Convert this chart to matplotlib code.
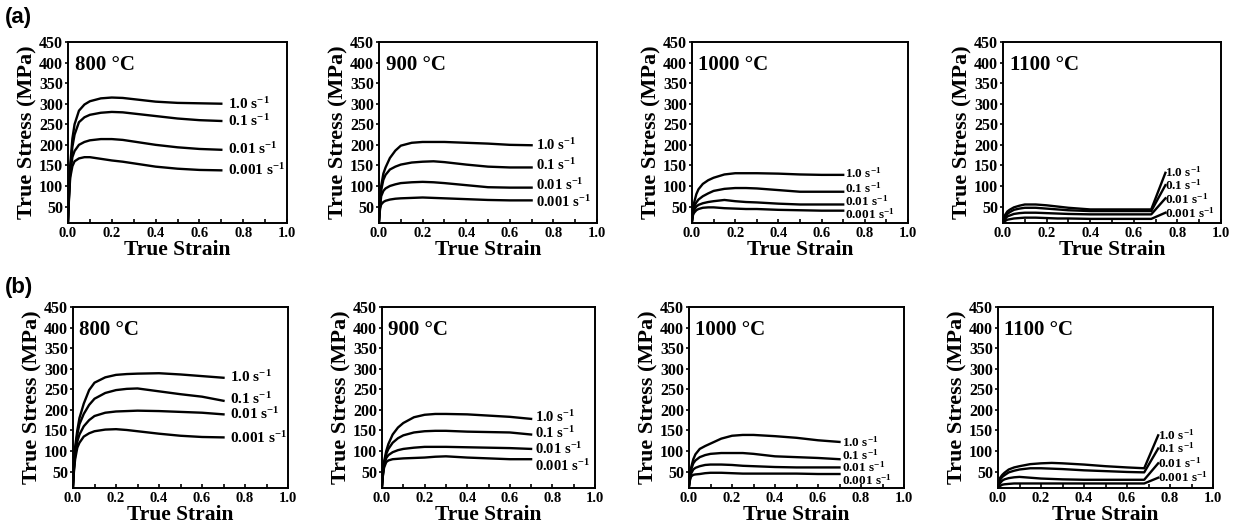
import numpy as np
import matplotlib
matplotlib.use('Agg')
import matplotlib.pyplot as plt
from matplotlib.ticker import MultipleLocator

plt.rcParams['font.family'] = ['Liberation Serif', 'DejaVu Serif']
plt.rcParams['font.weight'] = 'bold'
plt.rcParams['axes.labelweight'] = 'bold'
plt.rcParams['mathtext.fontset'] = 'custom'
plt.rcParams['mathtext.bf'] = 'Liberation Serif:bold'
plt.rcParams['mathtext.rm'] = 'Liberation Serif:bold'
plt.rcParams['mathtext.default'] = 'bf'

# strain grids
strain = [0, 0.005, 0.01, 0.02, 0.03, 0.05, 0.075, 0.1, 0.15, 0.2, 0.25, 0.3, 0.4, 0.5, 0.6, 0.7]
strain_1100 = [0, 0.005, 0.01, 0.02, 0.03, 0.05, 0.075, 0.1, 0.15, 0.2, 0.25, 0.3, 0.4, 0.5, 0.6, 0.68, 0.745]

rates = ['1.0 s$^{-1}$', '0.1 s$^{-1}$', '0.01 s$^{-1}$', '0.001 s$^{-1}$']
temps = ['800 \u00b0C', '900 \u00b0C', '1000 \u00b0C', '1100 \u00b0C']

# row (a) stresses, order: 1.0, 0.1, 0.01, 0.001 s^-1
a_800 = [[15, 90, 150, 215, 250, 283, 298, 306, 313, 315, 314, 311, 305, 302, 301, 300],
         [15, 85, 140, 195, 225, 255, 267, 273, 278, 280, 279, 276, 270, 264, 260, 258],
         [15, 80, 130, 170, 185, 200, 207, 211, 214, 214, 212, 208, 200, 194, 190, 188],
         [15, 75, 120, 148, 160, 167, 170, 170, 166, 162, 159, 155, 147, 142, 139, 138]]
a_900 = [[15, 60, 100, 130, 145, 168, 186, 198, 205, 207, 207, 207, 205, 203, 200, 199],
         [15, 55, 90, 115, 127, 140, 147, 152, 157, 159, 160, 158, 152, 147, 145, 145],
         [15, 50, 75, 88, 94, 100, 104, 107, 109, 110, 109, 107, 102, 97, 96, 96],
         [15, 45, 55, 61, 64, 67, 69, 70, 71, 72, 71, 70, 68, 66, 65, 65]]
a_1000 = [[15, 45, 60, 80, 92, 105, 114, 120, 128, 131, 131, 131, 130, 128, 127, 127],
          [15, 40, 50, 60, 67, 75, 82, 88, 93, 95, 95, 94, 90, 86, 86, 86],
          [15, 35, 42, 50, 54, 58, 61, 63, 66, 63, 61, 60, 57, 55, 55, 55],
          [15, 30, 35, 41, 44, 47, 48, 48, 46, 45, 44, 44, 42, 41, 40, 40]]
a_1100 = [[15, 25, 30, 38, 42, 48, 52, 55, 55, 53, 50, 47, 43, 43, 43, 43, 132],
          [12, 20, 25, 32, 36, 42, 45, 47, 47, 45, 43, 41, 39, 39, 39, 39, 102],
          [12, 17, 20, 26, 28, 32, 34, 35, 35, 34, 33, 32, 31, 31, 31, 31, 70],
          [10, 13, 15, 18, 19, 21, 22, 23, 23, 22, 21, 21, 20, 20, 20, 20, 35]]

# row (b)
b_800 = [[15, 70, 110, 150, 180, 215, 248, 266, 279, 285, 287, 288, 289, 286, 282, 278],
         [15, 65, 100, 140, 165, 190, 212, 227, 241, 248, 251, 252, 245, 238, 232, 222],
         [15, 60, 90, 123, 140, 160, 175, 185, 193, 196, 197, 198, 197, 195, 193, 189],
         [15, 55, 80, 108, 120, 135, 143, 148, 152, 153, 151, 148, 142, 137, 134, 133]]
b_900 = [[15, 50, 75, 100, 117, 140, 157, 168, 182, 188, 190, 190, 189, 186, 183, 178],
         [15, 48, 70, 93, 105, 120, 131, 138, 145, 148, 149, 149, 147, 146, 145, 140],
         [15, 45, 65, 83, 90, 97, 102, 105, 108, 110, 110, 110, 109, 108, 107, 105],
         [15, 45, 60, 73, 77, 80, 81, 82, 83, 84, 86, 87, 84, 82, 80, 80]]
b_1000 = [[15, 45, 60, 80, 92, 105, 112, 118, 130, 137, 139, 139, 136, 132, 126, 122],
          [15, 40, 55, 70, 77, 85, 90, 93, 95, 95, 95, 93, 87, 85, 83, 80],
          [15, 35, 45, 55, 59, 63, 66, 67, 67, 66, 64, 63, 61, 60, 60, 60],
          [15, 30, 38, 42, 43, 44, 46, 47, 47, 46, 45, 45, 45, 45, 44, 44]]
b_1100 = [[20, 28, 35, 42, 47, 55, 60, 63, 68, 70, 71, 70, 67, 63, 60, 58, 138],
          [18, 25, 30, 37, 41, 48, 52, 55, 58, 58, 57, 56, 53, 51, 49, 48, 106],
          [12, 18, 22, 28, 31, 34, 36, 37, 35, 33, 32, 31, 30, 30, 30, 30, 70],
          [10, 13, 15, 18, 19, 20, 21, 21, 21, 21, 21, 21, 21, 21, 21, 21, 35]]

# rate label heights (MPa) and left x per panel
a_lab_y = [[300, 258, 189, 138], [199, 150, 102, 62], [130, 95, 62, 30], [134, 101, 67, 33]]
b_lab_y = [[280, 226, 190, 131], [182, 143, 105, 64], [120, 90, 60, 28], [138, 106, 70, 35]]
lab_x = [0.73, 0.72, 0.71, 0.745]
lab_fs = [11, 10.5, 9.5, 9.5]

fig = plt.figure(figsize=(12.34, 5.30), dpi=100)
W, H = 1234., 530.

# axes boxes in pixels: left, right
a_cols = [(68, 287), (379, 597), (692, 908), (1003, 1221)]
b_cols = [(73, 288), (382, 595), (689, 904), (998, 1213)]
rows = [(42, 223), (307, 488)]

panels = [(a_cols, rows[0], [a_800, a_900, a_1000, a_1100], a_lab_y),
          (b_cols, rows[1], [b_800, b_900, b_1000, b_1100], b_lab_y)]

for cols, (top, bot), data, laby in panels:
    for j in range(4):
        l, r = cols[j]
        ax = fig.add_axes([l / W, 1 - bot / H, (r - l) / W, (bot - top) / H])
        x = strain_1100 if j == 3 else strain
        for k in range(4):
            ax.plot(x, data[j][k], 'k', lw=1.7)
            ax.text(lab_x[j], laby[j][k], rates[k], fontsize=lab_fs[j], va='center', ha='left')
        ax.text(0.03, 0.93, temps[j], transform=ax.transAxes, fontsize=15, va='top', ha='left')
        ax.set_xlim(0, 1)
        ax.set_ylim(10, 450)
        ax.set_xticks([0, 0.2, 0.4, 0.6, 0.8, 1.0])
        ax.set_xticklabels(['0.0', '0.2', '0.4', '0.6', '0.8', '1.0'])
        ax.xaxis.set_minor_locator(MultipleLocator(0.1))
        ax.set_yticks(np.arange(50, 451, 50))
        ax.tick_params(axis='x', which='both', direction='in', length=3, width=1.2, labelsize=10.5, pad=3)
        ax.tick_params(axis='y', direction='out', length=2.5, width=1.2, labelsize=11.5, pad=1)
        for s in ax.spines.values():
            s.set_linewidth(1.4)
        ax.set_xlabel('True Strain', fontsize=15.5, labelpad=0)
        ax.set_ylabel('True Stress (MPa)', fontsize=16, labelpad=1)

fig.text(5 / W, 1 - 18 / H, '(a)', family='Liberation Sans', fontsize=16, fontweight='bold', va='center')
fig.text(5 / W, 1 - 288 / H, '(b)', family='Liberation Sans', fontsize=16, fontweight='bold', va='center')

fig.savefig('out.png', dpi=100)
